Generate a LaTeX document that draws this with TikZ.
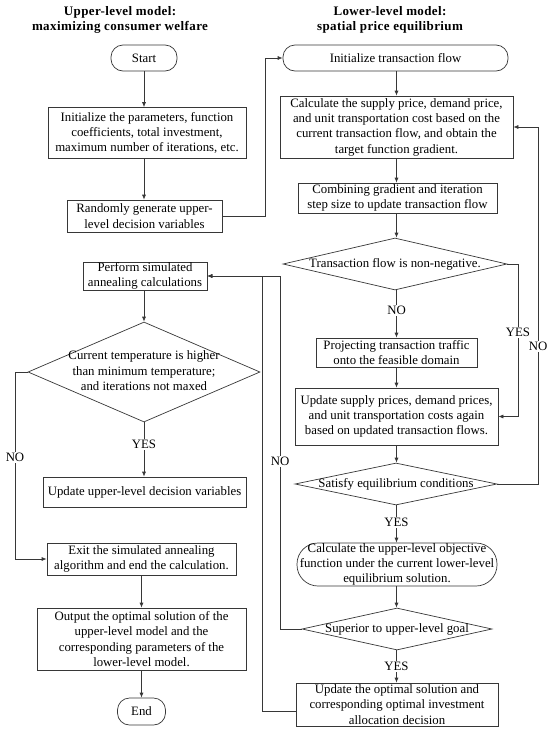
\documentclass[tikz,border=0pt]{standalone}
\usepackage{fontspec}
\setmainfont{Liberation Serif}
\usetikzlibrary{shapes.geometric,arrows.meta}
\definecolor{lc}{RGB}{55,55,55}
\newcommand{\dtxt}[1]{\makebox[0pt]{\begin{tabular}{@{}c@{}}#1\end{tabular}}}
\begin{document}
\begin{tikzpicture}[x=1pt,y=-1pt,
  every node/.style={font=\fontsize{12.8}{15.3}\selectfont, inner sep=0pt},
  box/.style={draw=lc, line width=.7pt, align=center, fill=white},
  term/.style={box, rounded corners=12pt},
  dia/.style={draw=lc, line width=.7pt, shape=diamond, aspect=1, fill=white},
  lab/.style={fill=white, inner sep=1.2pt},
  conn/.style={draw=lc, line width=.7pt, -{Latex[length=5pt,width=4pt]}},
  title/.style={font=\fontsize{13}{15.5}\selectfont\bfseries\addfontfeature{LetterSpace=3}, align=center}]
\fill[white] (0,0) rectangle (550,742);
\useasboundingbox (0,0) rectangle (550,742);

% titles
\node[title] (t1) at (120,20) {Upper-level model:\\maximizing consumer welfare};
\node[title] (t2) at (390,20) {Lower-level model:\\spatial price equilibrium};

% left column
\node[term, minimum width=66pt, minimum height=26pt] (start) at (144,58) {Start};
\node[box, minimum width=198pt, minimum height=51pt] (init) at (147,133) {Initialize the parameters, function\\coefficients, total investment,\\maximum number of iterations, etc.};
\node[box, minimum width=155pt, minimum height=32pt] (rand) at (144.5,216) {Randomly generate upper-\\level decision variables};
\node[box, minimum width=124pt, minimum height=28pt] (perf) at (145,276) {Perform simulated\\annealing calculations};
\node[dia, minimum width=232pt, minimum height=100pt] (d1) at (144,372) {\dtxt{Current temperature is higher\\than minimum temperature;\\and iterations not maxed}};
\node[box, minimum width=203pt, minimum height=30pt] (upd1) at (144.5,492) {Update upper-level decision variables};
\node[box, minimum width=189pt, minimum height=32pt] (exit) at (141.5,559) {Exit the simulated annealing\\algorithm and end the calculation.};
\node[box, minimum width=209pt, minimum height=62pt] (out) at (141.5,639) {Output the optimal solution of the\\upper-level model and the\\corresponding parameters of the\\lower-level model.};
\node[term, minimum width=48pt, minimum height=27pt] (end) at (141.5,711.5) {End};

% right column
\node[term, minimum width=225pt, minimum height=26pt] (init2) at (395.5,58) {Initialize transaction flow};
\node[box, minimum width=233pt, minimum height=62pt] (calc) at (396.5,127) {Calculate the supply price, demand price,\\and unit transportation cost based on the\\current transaction flow, and obtain the\\target function gradient.};
\node[box, minimum width=199pt, minimum height=30pt] (comb) at (397.5,198) {Combining gradient and iteration\\step size to update transaction flow};
\node[dia, minimum width=224pt, minimum height=52pt] (d2) at (395,264) {\dtxt{Transaction flow is non-negative.}};
\node[box, minimum width=161pt, minimum height=29pt] (proj) at (396.5,352.5) {Projecting transaction traffic\\onto the feasible domain};
\node[box, minimum width=203pt, minimum height=57pt] (upd2) at (396.5,416.5) {Update supply prices, demand prices,\\and unit transportation costs again\\based on updated transaction flows.};
\node[dia, minimum width=202pt, minimum height=42pt] (d3) at (396,484) {\dtxt{Satisfy equilibrium conditions}};
\node[term, rounded corners=21pt, minimum width=200pt, minimum height=43pt] (calcup) at (397,564.5) {Calculate the upper-level objective\\function under the current lower-level\\equilibrium solution.};
\node[dia, minimum width=190pt, minimum height=42pt] (d4) at (397,629) {\dtxt{Superior to upper-level goal}};
\node[box, minimum width=202pt, minimum height=43pt] (updopt) at (397,704.5) {Update the optimal solution and\\corresponding optimal investment\\allocation decision};

% bend points
\coordinate (k1) at (265,216);
\coordinate (k2) at (265,58);
\coordinate (k3) at (15,372);
\coordinate (k4) at (15,559);
\coordinate (k5) at (518,264);
\coordinate (k6) at (518,416.5);
\coordinate (k7) at (538,484);
\coordinate (k8) at (538,127);
\coordinate (k9) at (280,629);
\coordinate (k10) at (280,276);
\coordinate (k11) at (262,711);
\coordinate (k12) at (262,276);

% left connectors
\draw[conn] (start.south) -- (start.south |- init.north);
\draw[conn] (start.south |- init.south) -- (start.south |- rand.north);
\draw[conn] (rand.east) -- (k1) -- (k2) -- (init2.west);
\draw[conn] (d1.north |- perf.south) -- (d1.north);
\draw[conn] (d1.south) -- (d1.south |- upd1.north);
\draw[conn] (d1.west) -- (k3) -- (k4) -- (exit.west);
\draw[conn] (exit.south) -- (exit.south |- out.north);
\draw[conn] (out.south) -- (end.north);

% right connectors
\draw[conn] (init2.south -| calc.north) -- (calc.north);
\draw[conn] (calc.south) -- (calc.south |- comb.north);
\draw[conn] (calc.south |- comb.south) -- (calc.south |- d2.north);
\draw[conn] (calc.south |- d2.south) -- (calc.south |- proj.north);
\draw[conn] (proj.south) -- (upd2.north);
\draw[conn] (d2.east) -- (k5) -- (k6) -- (upd2.east);
\draw[conn] (upd2.south) -- (upd2.south |- d3.north);
\draw[conn] (d3.east) -- (k7) -- (k8) -- (calc.east);
\draw[conn] (upd2.south |- d3.south) -- (upd2.south |- calcup.north);
\draw[conn] (upd2.south |- calcup.south) -- (upd2.south |- d4.north);
\draw[conn] (upd2.south |- d4.south) -- (upd2.south |- updopt.north);
\draw[conn] (d4.west) -- (k9) -- (k10) -- (perf.east);
\draw[conn] (updopt.west |- k11) -- (k11) -- (k12) -- (perf.east);

% labels
\node[lab] (l1) at (144,444) {YES};
\node[lab] (l2) at (15,457) {NO};
\node[lab] (l3) at (396.5,310) {NO};
\node[lab] (l4) at (518,332) {YES};
\node[lab] (l5) at (538,346) {NO};
\node[lab] (l6) at (396.5,522) {YES};
\node[lab] (l7) at (280,461) {NO};
\node[lab] (l8) at (396.5,666) {YES};
\end{tikzpicture}
\end{document}
